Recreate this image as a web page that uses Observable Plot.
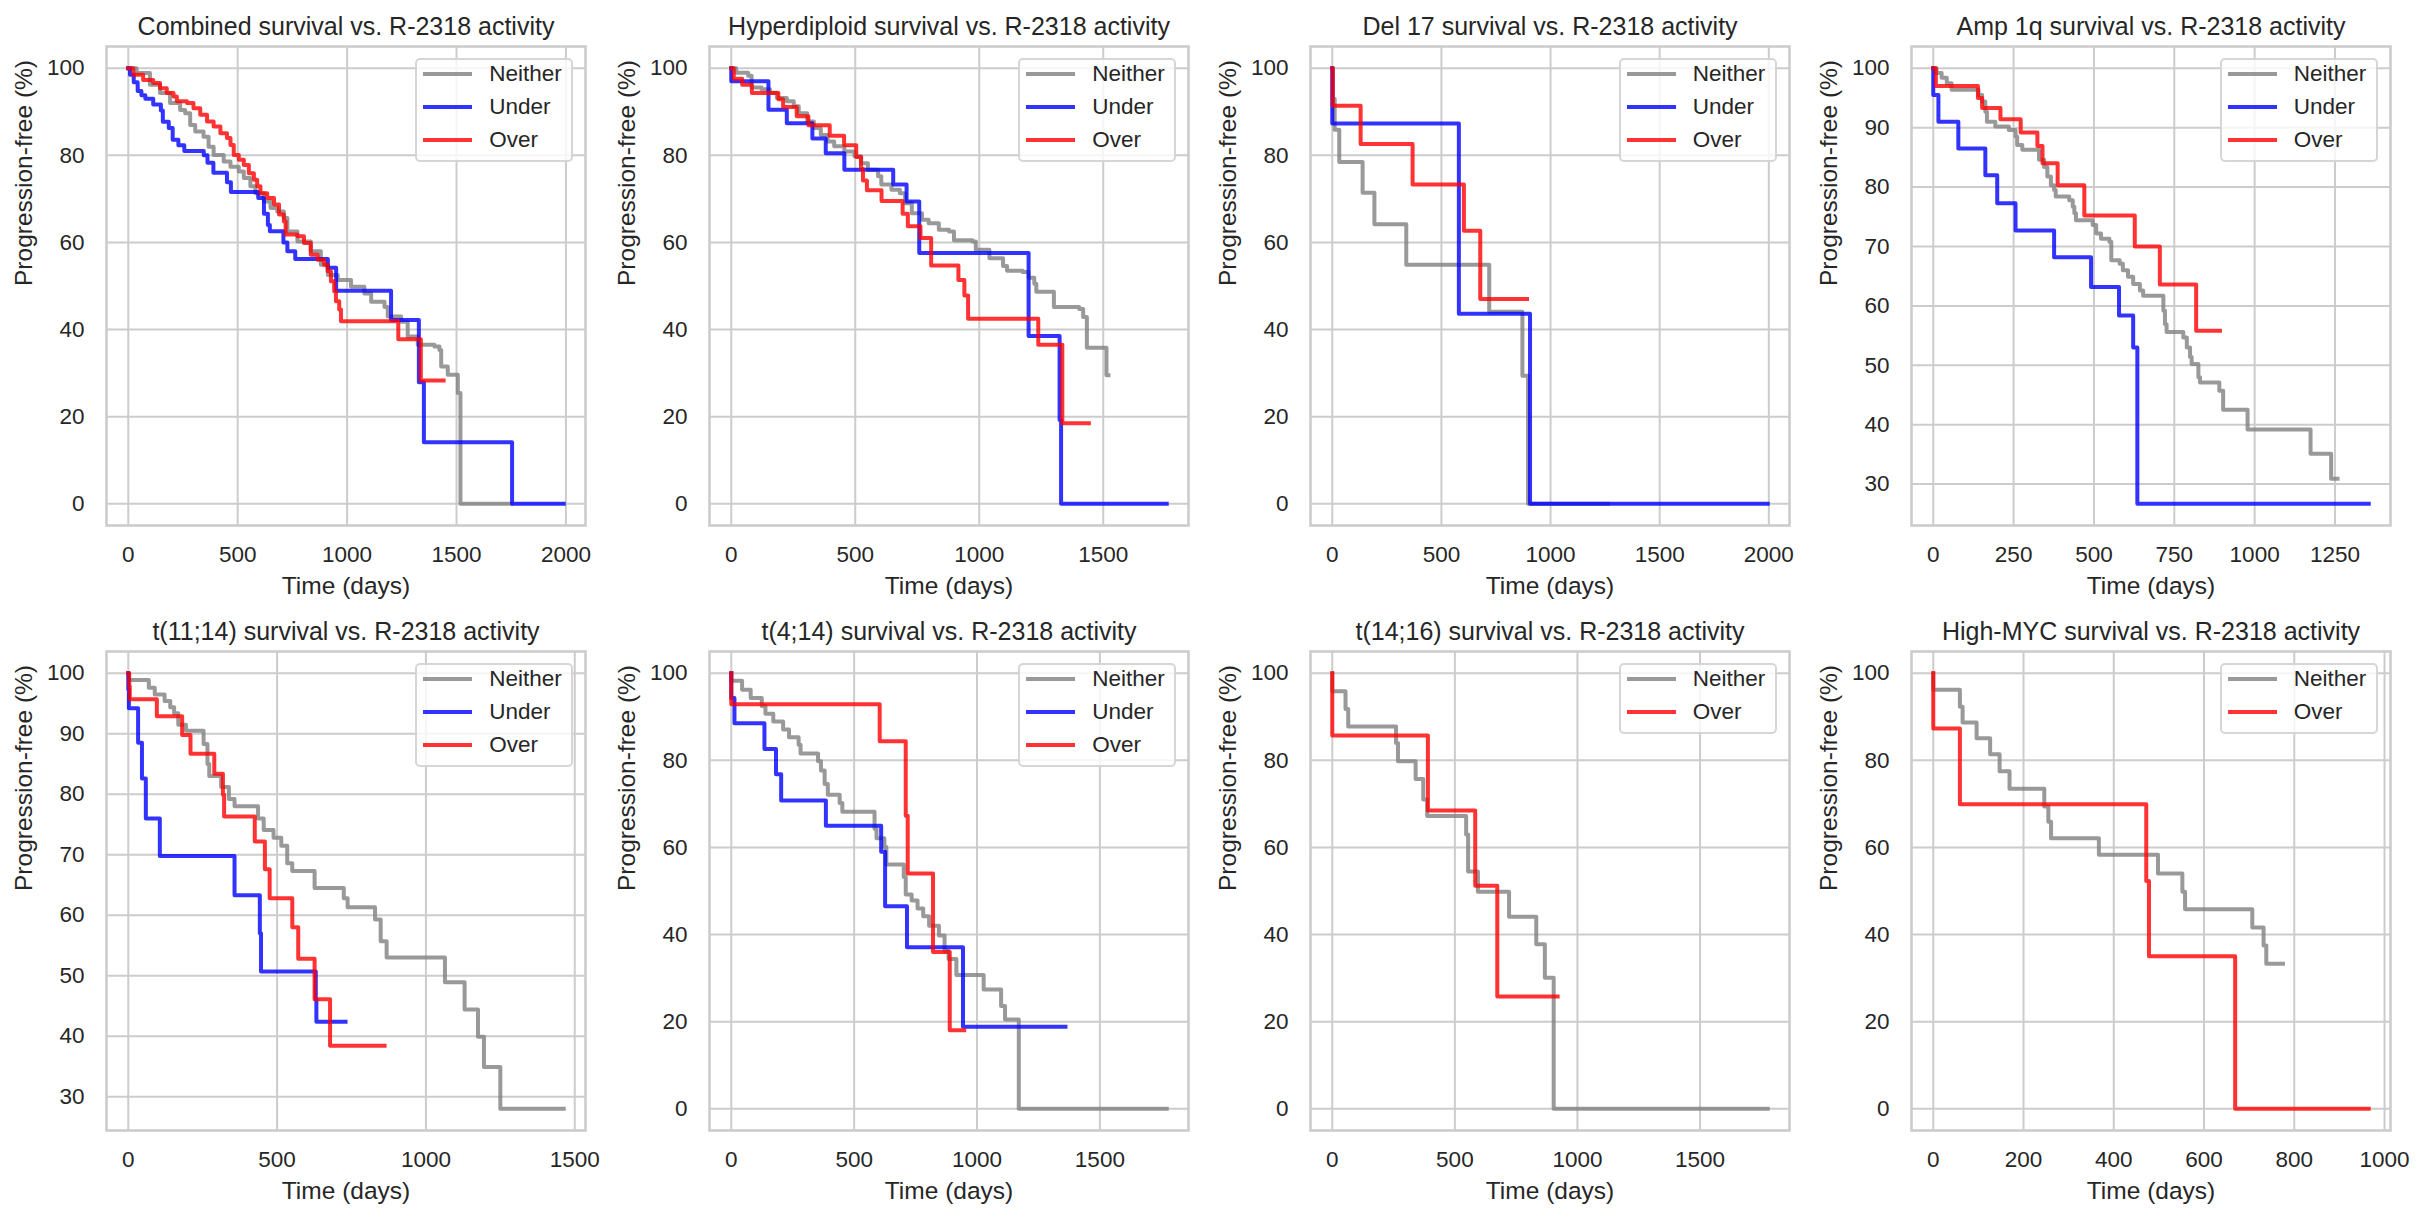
<!DOCTYPE html>
<html>
<head>
<meta charset="utf-8">
<script src="https://cdn.jsdelivr.net/npm/d3@7"></script>
<script src="https://cdn.jsdelivr.net/npm/@observablehq/plot@0.6"></script>
<style>
  html, body { margin: 0; padding: 0; background: #ffffff; }
  #root { position: relative; width: 2418px; height: 1218px; background: #ffffff; overflow: hidden;
          font-family: "Liberation Sans", Arial, sans-serif; color: #262626; }
  .panel { position: absolute; }
  .legend { position: absolute; box-sizing: border-box; border: 2px solid rgba(204,204,204,0.8);
            border-radius: 5px; background: rgba(255,255,255,0.8); }
  .legend .sw { position: absolute; height: 4px; width: 49px; opacity: 0.8; }
  .legend .lb { position: absolute; font-size: 22.5px; line-height: 1; color: #262626; white-space: nowrap; }
</style>
</head>
<body>
<div id="root"></div>
<script>
// ---------------- DATA (time in days, progression-free %) ----------------
const groupNames = ["Neither", "Under", "Over"];

// Combined
const combinedNeither = [[0,100],[38,98.9],[99,96.2],[145,94.3],[191,92],[237,90.4],[260,89.7],[283,87],[306,85.5],[344,84.3],[367,82],[390,80.1],[436,78.6],[467,77.4],[505,76.3],[528,74.8],[558,72.9],[581,71.3],[620,69.4],[650,67.9],[681,67.1],[711,65.6],[727,62.5],[773,60.2],[834,58],[880,54.9],[912,52.5],[957,51.4],[1018,49.8],[1079,48.3],[1110,46.4],[1171,45.2],[1186,43],[1247,41.8],[1277,38.4],[1323,36.5],[1399,36.1],[1422,35.3],[1430,31.5],[1460,29.6],[1506,25.4],[1518,0],[1750,0]];
const combinedUnder = [[0,100],[8,98.5],[25,96.8],[43,94.8],[60,93.8],[78,93],[114,91.7],[149,90.3],[158,87.7],[185,86.3],[203,83.6],[229,82.3],[256,81],[345,80],[362,78.3],[389,76],[451,73.8],[469,71.6],[594,70.2],[620,66.6],[638,64],[647,62.6],[709,60],[727,58],[763,56.2],[912,54.2],[950,48.9],[1201,42.2],[1328,27.9],[1351,14.1],[1754,0],[1990,0]];
const combinedOver = [[0,100],[23,98.5],[68,97.3],[114,96.6],[145,95.4],[176,94.3],[207,93.5],[222,92.4],[268,92],[298,90.8],[329,89.3],[360,87.8],[390,86.6],[421,85.1],[451,84],[467,82.4],[482,80.1],[505,79],[528,77.8],[551,75.9],[574,74.4],[589,72.9],[604,71.3],[635,70.2],[666,68.7],[689,66.4],[711,64.8],[719,61.8],[773,61.4],[803,59.9],[834,57.2],[865,56],[895,54.9],[911,53.4],[926,51.1],[941,48.8],[949,46.5],[964,44.6],[972,41.9],[1234,37.8],[1337,28.3],[1441,28.3]];

// Hyperdiploid
const hyperNeither = [[0,100],[20,99],[68,98.3],[82,95.6],[122,95.2],[156,94.4],[184,93.2],[224,92.4],[252,91.3],[272,89.7],[306,87.8],[333,86.3],[361,84.7],[388,83.2],[415,82.1],[456,80.9],[497,79.8],[524,78.2],[551,76.7],[592,75.2],[605,73.3],[646,72.1],[680,71.3],[701,69],[728,66.7],[769,65.2],[796,64.4],[837,62.9],[878,62.5],[898,60.5],[973,60.2],[986,58.3],[1041,56.4],[1096,54.6],[1112,53.5],[1175,53.2],[1199,51.9],[1222,50.5],[1230,48.7],[1301,45.2],[1403,44.7],[1419,42.9],[1434,35.8],[1513,29.5],[1521,29.5]];
const hyperUnder = [[0,100],[0,97],[150,90.5],[224,87.4],[327,83.9],[381,80.5],[456,76.7],[653,73.3],[707,69.4],[758,57.6],[1199,38.5],[1324,19.2],[1330,0],[1756,0]];
const hyperOver = [[0,100],[10,97.6],[44,96.2],[83,94.3],[190,92.9],[209,91.1],[264,89],[311,86.9],[397,84.5],[455,82.3],[504,79.6],[523,76.9],[531,74.2],[547,72],[606,69.5],[691,66.6],[712,63.7],[763,61],[806,54.7],[916,51.4],[940,47.8],[955,42.5],[1238,36.5],[1335,18.5],[1442,18.5]];

// Del 17
const del17Neither = [[0,100],[3,93],[11,85.9],[32,78.5],[139,71.4],[193,64.2],[339,54.9],[719,44.1],[871,29.4],[897,0],[1263,0]];
const del17Under = [[0,100],[0,87.3],[580,43.6],[906,0],[1995,0]];
const del17Over = [[0,100],[2,91.4],[130,82.6],[368,73.3],[603,62.7],[678,47],[892,47]];

// Amp 1q
const amp1qNeither = [[0,100],[10,99.2],[26,98.4],[42,97.5],[57,96.4],[141,95.5],[152,94.4],[162,92.7],[167,91],[193,90.2],[235,89.6],[256,88.5],[261,87.1],[277,86.3],[329,84.6],[345,83.4],[355,81.8],[366,80.3],[376,79.5],[381,78.4],[423,77.8],[434,76.7],[439,75.6],[444,74.4],[496,73.6],[507,72.2],[522,71.3],[548,70.8],[554,67.7],[580,67.1],[590,66],[606,64.9],[622,63.7],[643,62.6],[653,61.7],[716,59.2],[721,56.9],[726,55.6],[778,54.7],[789,53],[799,51.4],[804,50.2],[825,48],[830,47.1],[890,45.7],[902,42.5],[978,39.2],[1174,35.1],[1238,30.9],[1258,30.9]];
const amp1qUnder = [[0,100],[0,95.5],[16,91],[78,86.5],[162,82],[199,77.3],[256,72.7],[376,68.2],[491,63.2],[578,58.4],[622,53],[635,26.7],[1355,26.7]];
const amp1qOver = [[0,100],[8,97],[139,95],[152,93.3],[209,91.4],[272,89.2],[324,86.9],[340,84],[387,80.3],[470,75.2],[627,70],[705,63.6],[818,55.8],[892,55.8]];

// t(11;14)
const t1114Neither = [[0,100],[2,98.9],[69,97.6],[89,96.5],[122,95.4],[141,94.4],[154,93.4],[168,91.5],[194,90.5],[253,88.3],[266,85],[272,83],[312,81.2],[338,79.2],[357,78],[436,76],[455,74.1],[488,72.8],[514,71.5],[534,68.6],[551,67.3],[626,64.5],[724,62.8],[737,61.3],[829,59.3],[848,55.7],[868,53],[1064,48.9],[1130,44.4],[1175,39.9],[1195,34.9],[1250,28],[1463,28]];
const t1114Under = [[0,100],[0,97.3],[2,94.2],[33,88.5],[46,82.6],[59,76],[106,69.8],[357,63.3],[442,57],[446,50.7],[630,46],[632,42.4],[730,42.4]];
const t1114Over = [[0,100],[3,97.9],[5,95.7],[96,92.9],[181,89.8],[209,86.7],[289,83.4],[318,79.9],[322,76.3],[425,72.2],[459,67.6],[475,62.8],[551,58],[571,52.8],[626,46.1],[678,38.4],[861,38.4]];

// t(4;14)
const t414Neither = [[0,100],[0,98.3],[44,96.2],[79,94.3],[124,92.5],[139,90.7],[171,88.9],[211,87.1],[235,85.3],[274,83.6],[282,81.6],[353,79.8],[365,77.7],[380,74.6],[393,72.1],[441,70.2],[452,68.2],[583,64.3],[591,62.1],[623,60.1],[631,56.1],[702,53.2],[710,49.2],[734,47.8],[758,46],[781,44.2],[805,42],[845,39.8],[868,36.2],[884,34.4],[916,30.7],[1027,27.4],[1098,23.6],[1114,20.5],[1170,0],[1772,0]];
const t414Under = [[0,100],[0,94.3],[13,88.5],[135,82.6],[182,76.8],[203,70.8],[385,65],[610,59],[626,46.5],[715,37.1],[943,18.8],[1360,18.8]];
const t414Over = [[0,100],[0,92.9],[604,84.4],[710,67.3],[718,54],[821,36],[889,18],[948,18]];

// t(14;16)
const t1416Neither = [[0,100],[0,95.9],[54,91.8],[65,87.8],[260,84],[268,79.8],[340,75.7],[371,71],[387,67.2],[546,63],[554,54.5],[594,49.8],[721,44.1],[832,37.8],[867,30.1],[903,0],[1776,0]];
const t1416Over = [[0,100],[0,85.7],[390,68.5],[583,51.2],[673,25.8],[919,25.8]];

// High-MYC
const mycNeither = [[0,100],[0,96.2],[59,92.3],[65,88.7],[96,85.1],[126,81.4],[147,77.5],[169,73.5],[246,69.4],[255,65.9],[261,62.1],[367,58.3],[498,54],[552,49.8],[558,45.8],[707,41.6],[732,37.5],[738,33.3],[775,33.3]];
const mycOver = [[0,100],[0,87.3],[59,69.9],[472,52.3],[478,35],[669,0],[965,0]];

// Tick values
const xTicks2000 = [0, 500, 1000, 1500, 2000];
const xTicks1500 = [0, 500, 1000, 1500];
const xTicks1250 = [0, 250, 500, 750, 1000, 1250];
const xTicks1000 = [0, 200, 400, 600, 800, 1000];
const yTicks0 = [0, 20, 40, 60, 80, 100];
const yTicks30 = [30, 40, 50, 60, 70, 80, 90, 100];

// Titles
const titles = [
  "Combined survival vs. R-2318 activity",
  "Hyperdiploid survival vs. R-2318 activity",
  "Del 17 survival vs. R-2318 activity",
  "Amp 1q survival vs. R-2318 activity",
  "t(11;14) survival vs. R-2318 activity",
  "t(4;14) survival vs. R-2318 activity",
  "t(14;16) survival vs. R-2318 activity",
  "High-MYC survival vs. R-2318 activity"
];

// ---------------- PANELS ----------------
const panels = [
  {title: titles[0], xTicks: xTicks2000, yTicks: yTicks0, series: [["Neither", combinedNeither], ["Under", combinedUnder], ["Over", combinedOver]]},
  {title: titles[1], xTicks: xTicks1500, yTicks: yTicks0, series: [["Neither", hyperNeither], ["Under", hyperUnder], ["Over", hyperOver]]},
  {title: titles[2], xTicks: xTicks2000, yTicks: yTicks0, series: [["Neither", del17Neither], ["Under", del17Under], ["Over", del17Over]]},
  {title: titles[3], xTicks: xTicks1250, yTicks: yTicks30, series: [["Neither", amp1qNeither], ["Under", amp1qUnder], ["Over", amp1qOver]]},
  {title: titles[4], xTicks: xTicks1500, yTicks: yTicks30, series: [["Neither", t1114Neither], ["Under", t1114Under], ["Over", t1114Over]]},
  {title: titles[5], xTicks: xTicks1500, yTicks: yTicks0, series: [["Neither", t414Neither], ["Under", t414Under], ["Over", t414Over]]},
  {title: titles[6], xTicks: xTicks1500, yTicks: yTicks0, series: [["Neither", t1416Neither], ["Over", t1416Over]]},
  {title: titles[7], xTicks: xTicks1000, yTicks: yTicks0, series: [["Neither", mycNeither], ["Over", mycOver]]}
];

// ---------------- LAYOUT / STYLE ----------------
const groupColors = ["#808080", "#0000ff", "#ff0000"];
const colLeft = [106, 709, 1309.5, 1910.5];
const rowTop = [45.7, 651];
const FW = 479, FH = 479;
const ML = 105, MR = 12, MT = 45, MB = 80;
const TEXT = "#262626";

function makePanel(p) {
  const rows = [];
  for (const [group, pts] of p.series) for (const [t, s] of pts) rows.push({group, t, s});
  const tMax = d3.max(rows, d => d.t);
  const sMin = d3.min(rows, d => d.s), sMax = d3.max(rows, d => d.s);
  const xPad = (tMax - 0) * 0.05, yPad = (sMax - sMin) * 0.05;
  return Plot.plot({
    width: ML + FW + MR,
    height: MT + FH + MB,
    marginLeft: ML, marginRight: MR, marginTop: MT, marginBottom: MB,
    x: {domain: [0 - xPad, tMax + xPad]},
    y: {domain: [sMin - yPad, sMax + yPad]},
    color: {domain: groupNames, range: groupColors},
    style: {fontFamily: '"Liberation Sans", Arial, sans-serif', background: "transparent", color: TEXT, overflow: "visible"},
    marks: [
      Plot.gridX(p.xTicks, {stroke: "#cccccc", strokeOpacity: 1, strokeWidth: 2}),
      Plot.gridY(p.yTicks, {stroke: "#cccccc", strokeOpacity: 1, strokeWidth: 2}),
      Plot.frame({stroke: "#cccccc", strokeWidth: 2.6}),
      Plot.axisX(p.xTicks, {tickSize: 0, tickPadding: 21, label: null, fontSize: 22.5, fill: TEXT, tickFormat: d => String(d)}),
      Plot.axisY(p.yTicks, {tickSize: 0, tickPadding: 22, label: null, fontSize: 22.5, fill: TEXT, tickFormat: d => String(d)}),
      Plot.line(rows, {x: "t", y: "s", z: "group", stroke: "group", curve: "step-after",
                       strokeWidth: 4, strokeOpacity: 0.8, strokeLinejoin: "round", strokeLinecap: "square"}),
      Plot.text([p.title], {text: d => d, frameAnchor: "top", lineAnchor: "bottom", dy: -12, fontSize: 25, fill: TEXT}),
      Plot.text(["Time (days)"], {text: d => d, frameAnchor: "bottom", lineAnchor: "bottom", dy: 68, fontSize: 24.5, fill: TEXT}),
      Plot.text(["Progression-free (%)"], {text: d => d, frameAnchor: "left", lineAnchor: "top", rotate: -90, dx: -92, fontSize: 24.5, fill: TEXT})
    ]
  });
}

function makeLegend(p, frameLeft, frameTop) {
  const n = p.series.length;
  const w = 158, h = 38 + 33 * (n - 1);
  const box = document.createElement("div");
  box.className = "legend";
  box.style.left = (frameLeft + FW - 11.7 - w) + "px";
  box.style.top = (frameTop + 12) + "px";
  box.style.width = w + "px";
  box.style.height = h + "px";
  p.series.forEach(([group], i) => {
    const cy = 16.4 + 33 * i - 2; // inside border
    const sw = document.createElement("div");
    sw.className = "sw";
    sw.style.background = groupColors[groupNames.indexOf(group)];
    sw.style.left = (7.8 - 2) + "px";
    sw.style.top = (cy - 2) + "px";
    box.appendChild(sw);
    const lb = document.createElement("div");
    lb.className = "lb";
    lb.textContent = group;
    lb.style.left = (74 - 2) + "px";
    lb.style.top = (cy - 11.5) + "px";
    box.appendChild(lb);
  });
  return box;
}

const root = document.getElementById("root");
panels.forEach((p, i) => {
  const col = i % 4, row = Math.floor(i / 4);
  const fl = colLeft[col], ft = rowTop[row];
  const wrap = document.createElement("div");
  wrap.className = "panel";
  wrap.style.left = (fl - ML) + "px";
  wrap.style.top = (ft - MT) + "px";
  wrap.appendChild(makePanel(p));
  root.appendChild(wrap);
  root.appendChild(makeLegend(p, fl, ft));
});
</script>
</body>
</html>
